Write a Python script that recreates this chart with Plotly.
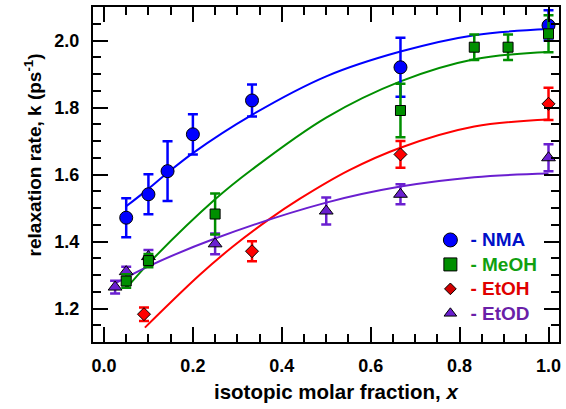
import plotly.graph_objects as go

# ---------------- data ----------------
nma_x = [0.05, 0.1, 0.143, 0.2, 0.333, 0.667, 1.0]
nma_y = [1.471, 1.541, 1.610, 1.720, 1.821, 1.920, 2.045]
nma_err = [0.058, 0.06, 0.089, 0.06, 0.048, 0.088, 0.045]

meoh_x = [0.05, 0.1, 0.25, 0.667, 0.833, 0.909, 1.0]
meoh_y = [1.282, 1.343, 1.482, 1.791, 1.980, 1.980, 2.020]
meoh_err = [0.02, 0.02, 0.061, 0.08, 0.038, 0.038, 0.055]

etoh_x = [0.09, 0.333, 0.667, 1.0]
etoh_y = [1.183, 1.371, 1.660, 1.811]
etoh_err = [0.02, 0.03, 0.04, 0.048]

etod_x = [0.025, 0.05, 0.1, 0.25, 0.5, 0.667, 1.0]
etod_y = [1.264, 1.310, 1.355, 1.393, 1.491, 1.541, 1.650]
etod_err = [0.019, 0.015, 0.02, 0.031, 0.04, 0.03, 0.04]

# fitted curves
nma_fit_x = [0.05, 0.1, 0.143, 0.2, 0.333, 0.5, 0.667, 0.833, 1.0]
nma_fit_y = [1.505, 1.557, 1.605, 1.664, 1.778, 1.893, 1.967, 2.016, 2.034]
meoh_fit_x = [0.05, 0.1, 0.25, 0.333, 0.5, 0.667, 0.833, 1.0]
meoh_fit_y = [1.260, 1.334, 1.526, 1.615, 1.770, 1.878, 1.944, 1.966]
etoh_fit_x = [0.092, 0.215, 0.29, 0.368, 0.44, 0.552, 0.667, 0.833, 1.0]
etoh_fit_y = [1.143, 1.300, 1.385, 1.463, 1.527, 1.613, 1.680, 1.743, 1.764]
etod_fit_x = [0.025, 0.1, 0.25, 0.5, 0.667, 0.833, 1.0]
etod_fit_y = [1.275, 1.326, 1.409, 1.516, 1.564, 1.592, 1.603]

series_names = ["NMA", "MeOH", "EtOH", "EtOD"]
x_ticks = [0.0, 0.2, 0.4, 0.6, 0.8, 1.0]
x_ticklabels = ["0.0", "0.2", "0.4", "0.6", "0.8", "1.0"]
y_ticks = [1.2, 1.4, 1.6, 1.8, 2.0]
y_ticklabels = ["1.2", "1.4", "1.6", "1.8", "2.0"]
x_title = "<b>isotopic molar fraction, <i>x</i></b>"
y_title = "<b>relaxation rate, k (ps<sup>-1</sup>)</b>"

BLUE = "#0000ff"
GREEN = "#008f00"
RED = "#ff0000"
PURPLE = "#6a1fd0"
TEXT_COL = ["#0010c8", "#10a010", "#e00000", "#6a1fa8"]
FONT = "Liberation Sans, Arial, sans-serif"

fig = go.Figure()

# fit lines
for fx, fy, col in [(nma_fit_x, nma_fit_y, BLUE), (meoh_fit_x, meoh_fit_y, GREEN),
                    (etoh_fit_x, etoh_fit_y, RED), (etod_fit_x, etod_fit_y, PURPLE)]:
    fig.add_trace(go.Scatter(x=fx, y=fy, mode="lines", showlegend=False,
                             line=dict(color=col, width=2, shape="spline", smoothing=1.0),
                             hoverinfo="skip"))

def pts(x, y, e, col, sym, size):
    return go.Scatter(
        x=x, y=y, mode="markers", showlegend=False,
        marker=dict(color=col, symbol=sym, size=size,
                    line=dict(color="black", width=1)),
        error_y=dict(type="data", array=e, visible=True, color=col,
                     thickness=2.5, width=5),
    )

fig.add_trace(pts(etod_x, etod_y, etod_err, PURPLE, "triangle-up", 12))
fig.add_trace(pts(nma_x, nma_y, nma_err, BLUE, "circle", 13))
fig.add_trace(pts(meoh_x, meoh_y, meoh_err, GREEN, "square", 10))
fig.add_trace(pts(etoh_x, etoh_y, etoh_err, RED, "diamond", 10))

# legend entries (legend-only traces, own symbol sizes as in the reference)
legend_specs = [("circle", 14, BLUE), ("square", 13, GREEN),
                ("diamond", 9, "#d00000"), ("triangle-up", 11, PURPLE)]
for i, (name, (sym, sz, col)) in enumerate(zip(series_names, legend_specs)):
    fig.add_trace(go.Scatter(
        x=[None], y=[None], mode="markers", legendrank=i + 1,
        name="<span style='font-size:19px;color:%s'><b>- %s</b></span>" % (TEXT_COL[i], name),
        marker=dict(color=col, symbol=sym, size=sz, line=dict(color="black", width=1)),
    ))

axis_common = dict(
    showline=True, linecolor="black", linewidth=2, mirror="allticks",
    ticks="inside", ticklen=15, tickwidth=2, tickcolor="black",
    showgrid=False, zeroline=False,
    tickfont=dict(family=FONT, size=18, color="black"),
    minor=dict(ticks="inside", ticklen=8, tickwidth=2, tickcolor="black", dtick=0.05),
)

fig.update_xaxes(
    range=[-0.0247, 1.0236], tickvals=x_ticks,
    ticktext=["<b>%s</b>" % t for t in x_ticklabels],
    ticklabelstandoff=6,
    **axis_common,
)
fig.update_yaxes(
    range=[1.1, 2.1], tickvals=y_ticks,
    ticktext=["<b>%s</b>" % t for t in y_ticklabels],
    ticklabelstandoff=8,
    **axis_common,
)

fig.add_annotation(text=x_title, xref="paper", yref="paper", x=0.5225, y=-0.147,
                   xanchor="center", yanchor="middle", showarrow=False,
                   font=dict(family=FONT, size=20.5, color="black"))
fig.add_annotation(text=y_title, xref="paper", yref="paper", x=-0.1288, y=0.56,
                   xanchor="center", yanchor="middle", showarrow=False, textangle=-90,
                   font=dict(family=FONT, size=19, color="black"))

fig.update_layout(
    width=566, height=409,
    margin=dict(l=93, r=7, t=7, b=67, autoexpand=False),
    plot_bgcolor="white", paper_bgcolor="white",
    font=dict(family=FONT, size=19),
    showlegend=True,
    legend=dict(x=0.724, y=0.356, xanchor="left", yanchor="top",
                bgcolor="rgba(0,0,0,0)", font=dict(family=FONT, size=16.5),
                itemsizing="trace", tracegroupgap=0),
)

fig.write_html("out.html", config={"displayModeBar": False},
               post_script="document.body.style.margin='0';document.body.style.padding='0';")
